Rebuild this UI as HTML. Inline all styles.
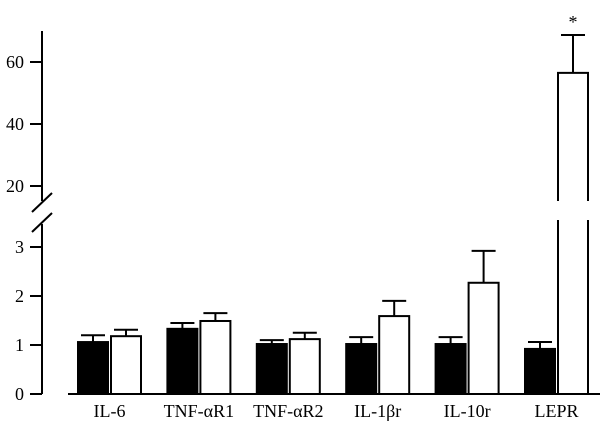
<!DOCTYPE html>
<html><head><meta charset="utf-8"><style>
html,body{margin:0;padding:0;background:#fff;}
svg{display:block;font-family:"Liberation Serif",serif;}
</style></head><body>
<svg id="chart" width="600" height="426" viewBox="0 0 600 426" xmlns="http://www.w3.org/2000/svg">
<g id="axes"></g>
<g id="bars"></g>
<g id="labels"></g>
</svg>
<script>
const categories = ["IL-6","TNF-\u03b1R1","TNF-\u03b1R2","IL-1\u03b2r","IL-10r","LEPR"];
const blackValues = [1.06,1.33,1.02,1.02,1.02,0.92];
const blackErrors = [1.20,1.45,1.10,1.16,1.16,1.06];
const whiteValues = [1.18,1.49,1.12,1.59,2.27,56.5];
const whiteErrors = [1.31,1.65,1.25,1.90,2.92,68.7];
const significant = [false,false,false,false,false,true];
const lowerTicks = [0,1,2,3];
const upperTicks = [20,40,60];

const NS="http://www.w3.org/2000/svg";
const base=394, axisX=42;
function yScale(v){ return v<=3.5 ? base - v*49 : 186 - (v-20)*3.1; }
function xBand(i){ return 78 + i*89.4; }
function mk(tag, attrs, parent){ const e=document.createElementNS(NS,tag); for(const k in attrs) e.setAttribute(k,attrs[k]); parent.appendChild(e); return e; }
const axes=document.getElementById('axes'), bars=document.getElementById('bars'), labels=document.getElementById('labels');
const st={stroke:"#000","stroke-width":2,fill:"none"};

// axis lines
let l=mk('line',Object.assign({x1:axisX,y1:31,x2:axisX,y2:201},st),axes);
 
l=mk('line',Object.assign({x1:axisX,y1:224,x2:axisX,y2:base},st),axes);
 
l=mk('line',Object.assign({x1:32,y1:212,x2:52,y2:193},st),axes);
 
l=mk('line',Object.assign({x1:32,y1:232,x2:52,y2:213},st),axes);
 
l=mk('line',Object.assign({x1:68,y1:base,x2:600,y2:base},st),axes);
 

lowerTicks.concat(upperTicks).forEach(t=>{
  const y=yScale(t);
  const tk=mk('line',Object.assign({x1:30,y1:y,x2:axisX,y2:y},st),axes);
  
  
  const tx=mk('text',{x:24,y:y+6,"text-anchor":"end","font-size":18,fill:"#000"},axes);
  tx.textContent=t;
  
  
});

function errBar(cx, top, err){
  const ye=yScale(err);
  const a=mk('line',Object.assign({x1:cx,y1:ye,x2:cx,y2:top},st),bars);
  
  
  const c=mk('line',Object.assign({x1:cx-12,y1:ye,x2:cx+12,y2:ye},st),bars);
  
  
}

categories.forEach((cat,i)=>{
  const x0=xBand(i), w=30;
  // black bar
  const yb=yScale(blackValues[i]);
  const rb=mk('rect',{x:x0,y:yb,width:w,height:base-yb,fill:"#000",stroke:"#000","stroke-width":2},bars);
  
  
  errBar(x0+w/2, yb, blackErrors[i]);
  // white bar
  const xw=x0+33, v=whiteValues[i], yw=yScale(v);
  if(v>3.5){
    const p1=mk('path',{d:`M${xw},201 V${yw} H${xw+w} V201`,fill:"#fff",stroke:"#000","stroke-width":2},bars);
    
    
    const p2=mk('path',{d:`M${xw},${base} V220 M${xw+w},220 V${base}`,fill:"none",stroke:"#000","stroke-width":2},bars);
    
    
  } else {
    const rw=mk('rect',{x:xw,y:yw,width:w,height:base-yw,fill:"#fff",stroke:"#000","stroke-width":2},bars);
    
    
  }
  errBar(xw+w/2, yw, whiteErrors[i]);
  if(significant[i]){
    const s=mk('text',{x:xw+w/2,y:yScale(whiteErrors[i])-7,"text-anchor":"middle","font-size":18,fill:"#000"},bars);
    s.textContent="*";
    
    
  }
  const t=mk('text',{x:x0+31.5,y:417,"text-anchor":"middle","font-size":18,fill:"#000"},labels);
  t.textContent=cat;
  
  
});
</script>
</body></html>
